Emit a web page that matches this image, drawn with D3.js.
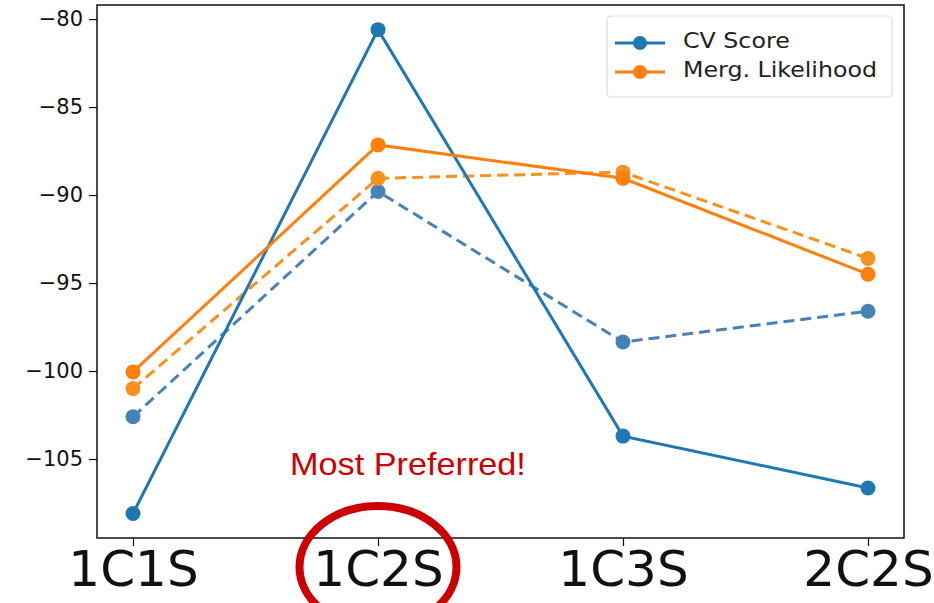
<!DOCTYPE html>
<html>
<head>
<meta charset="utf-8">
<script src="https://cdn.jsdelivr.net/npm/d3@7"></script>
<style>
  body { margin: 0; background: #fff; }
  svg { display: block; }
</style>
</head>
<body>
<div id="chart"></div>
<script>
// data
var categories = ['1C1S', '1C2S', '1C3S', '2C2S'];
var cvScore = [-108.1, -80.6, -103.7, -106.65];
var margLik = [-100.05, -87.15, -89.05, -94.5];
var cvScoreDashed = [-102.6, -89.8, -98.35, -96.6];
var margLikDashed = [-101.0, -89.05, -88.7, -93.6];
var yTicks = [-80, -85, -90, -95, -100, -105];
var legendLabels = ['CV Score', 'Merg. Likelihood'];

var W = 934, H = 603;
var margin = {top: 5, right: 30, bottom: 65, left: 97};
var width = 904 - margin.left, height = 538 - margin.top;

var blue = '#1f77b4', orange = '#ff7f0e';
var blueDash = '#4682b8', orangeDash = '#f7911c';

var svg = d3.select('#chart').append('svg')
    .attr('width', W)
    .attr('height', H);

var g = svg.append('g').attr('transform', 'translate(' + margin.left + ',' + margin.top + ')');

var x = d3.scalePoint().domain(categories).range([36, width - 36]);
var y = d3.scaleLinear().domain([-109.49, -79.2]).range([height, 0]);

// axes
var yAxis = g.append('g')
    .call(d3.axisLeft(y).tickValues(yTicks).tickSize(8).tickPadding(6).tickFormat(function (d) { return '\u2212' + Math.abs(d); }));
yAxis.select('.domain').remove();
yAxis.selectAll('text')
    .style('font-family', 'DejaVu Sans')
    .style('font-size', '21px')
    .attr('fill', '#111');
yAxis.selectAll('line').attr('stroke', '#111').attr('stroke-width', 1.2);

var xAxis = g.append('g')
    .attr('transform', 'translate(0,' + height + ')')
    .call(d3.axisBottom(x).tickSize(8).tickPadding(4));
xAxis.select('.domain').remove();
xAxis.selectAll('text')
    .style('font-family', 'DejaVu Sans')
    .style('font-size', '50px')
    .attr('fill', '#111')
    .attr('dy', '0.71em');
xAxis.selectAll('line').attr('stroke', '#111').attr('stroke-width', 1.2);

// frame
g.append('rect')
    .attr('width', width)
    .attr('height', height)
    .attr('fill', 'none')
    .attr('stroke', '#111')
    .attr('stroke-width', 1.5);

var line = d3.line()
    .x(function (d, i) { return x(categories[i]); })
    .y(function (d) { return y(d); });

function drawSeries(values, color, dashed) {
    g.append('path')
        .datum(values)
        .attr('d', line)
        .attr('fill', 'none')
        .attr('stroke', color)
        .attr('stroke-width', 3)
        .attr('stroke-dasharray', dashed ? '11,6' : null);
    g.selectAll(null)
        .data(values)
        .enter().append('circle')
        .attr('cx', function (d, i) { return x(categories[i]); })
        .attr('cy', function (d) { return y(d); })
        .attr('r', 7.5)
        .attr('fill', color);
}

drawSeries(cvScoreDashed, blueDash, true);
drawSeries(margLikDashed, orangeDash, true);
drawSeries(cvScore, blue, false);
drawSeries(margLik, orange, false);

// legend
var legend = g.append('g').attr('transform', 'translate(' + (607 - margin.left) + ',' + (16 - margin.top) + ')');
legend.append('rect')
    .attr('width', 285)
    .attr('height', 81)
    .attr('rx', 4)
    .attr('fill', '#fff')
    .attr('stroke', '#ddd')
    .attr('stroke-width', 1.2);
var legendColors = [blue, orange];
legendLabels.forEach(function (lab, i) {
    var ly = 27 + i * 29;
    legend.append('line')
        .attr('x1', 8).attr('x2', 58)
        .attr('y1', ly).attr('y2', ly)
        .attr('stroke', legendColors[i])
        .attr('stroke-width', 3);
    legend.append('circle')
        .attr('cx', 33).attr('cy', ly).attr('r', 7)
        .attr('fill', legendColors[i]);
    legend.append('text')
        .attr('transform', 'translate(76,' + (ly - 3) + ') scale(1.13,1)')
        .attr('dy', '0.36em')
        .style('font-family', 'DejaVu Sans')
        .style('font-size', '21px')
        .attr('fill', '#222')
        .text(lab);
});

// annotation
svg.append('text')
    .attr('transform', 'translate(290,475) scale(1.07,1)')
    .style('font-family', 'Liberation Sans')
    .style('font-size', '32px')
    .attr('fill', '#cc0000')
    .text('Most Preferred!');

svg.append('ellipse')
    .attr('cx', x('1C2S') + margin.left)
    .attr('cy', 567)
    .attr('rx', 78.5)
    .attr('ry', 61)
    .attr('fill', 'none')
    .attr('stroke', '#cc0000')
    .attr('stroke-width', 8);
</script>
</body>
</html>
